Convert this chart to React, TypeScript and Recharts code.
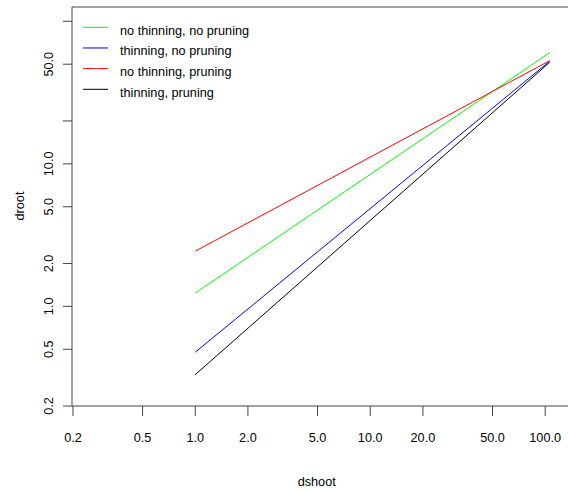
import React from "react";
import { LineChart, Line, XAxis, YAxis, ReferenceLine, Customized } from "recharts";

// log-log fit lines at both ends
const dshoot = [1, 106];
const noThinNoPrune = [1.24, 60.2];
const thinNoPrune = [0.477, 52.4];
const noThinPrune = [2.44, 52.9];
const thinPrune = [0.332, 51.5];

const xTicks = [0.2, 0.5, 1, 2, 5, 10, 20, 50, 100];
const yTicks = [0.2, 0.5, 1, 2, 5, 10, 20, 50, 100];
const yLabelled = [0.2, 0.5, 1, 2, 5, 10, 50];

const series = [
  { key: "ntnp", name: "no thinning, no pruning", color: "#00ff00", values: noThinNoPrune },
  { key: "tnp", name: "thinning, no pruning", color: "#0000ff", values: thinNoPrune },
  { key: "ntp", name: "no thinning, pruning", color: "#ff0000", values: noThinPrune },
  { key: "tp", name: "thinning, pruning", color: "#000000", values: thinPrune },
];

const data = dshoot.map((x, i) => {
  const row: Record<string, number> = { dshoot: x };
  series.forEach((s) => (row[s.key] = s.values[i]));
  return row;
});

const FONT = "'Liberation Sans', Arial, sans-serif";
const AXIS = "#444";

const fmt = (v: number) => (v < 1 ? String(v) : v.toFixed(1));

function YTick(props: any) {
  const { x, y, payload } = props;
  if (!yLabelled.includes(payload.value)) return null;
  return (
    <text x={x} y={y} transform={`rotate(-90, ${x}, ${y})`} textAnchor="middle" fill="#000" fontSize={12.7} fontFamily={FONT}>
      {fmt(payload.value)}
    </text>
  );
}

function Extras() {
  return (
    <g fontFamily={FONT} fontSize={12.7} fill="#000">
      {series.map((s, i) => (
        <g key={s.key}>
          <line x1={83} x2={108} y1={27.3 + i * 20.67} y2={27.3 + i * 20.67} stroke={s.color} strokeWidth={1} />
          <text x={120} y={34.5 + i * 20.67}>{s.name}</text>
        </g>
      ))}
      <text x={316.7} y={486} textAnchor="middle">dshoot</text>
      <text x={23.5} y={206} textAnchor="middle" transform="rotate(-90, 23.5, 206)">droot</text>
    </g>
  );
}

export default function App() {
  return (
    <div style={{ position: "absolute", left: 0, top: 0, width: 568, height: 490, background: "#fff" }}>
      <LineChart width={568} height={490} data={data} margin={{ top: 7, right: 0, bottom: 0, left: 0 }}>
        <XAxis
          dataKey="dshoot"
          type="number"
          scale="log"
          domain={[0.1975, 135]}
          allowDataOverflow
          ticks={xTicks}
          interval={0}
          tickFormatter={fmt}
          height={84}
          tickSize={10}
          tickMargin={17}
          stroke={AXIS}
          tick={{ fill: "#000", fontSize: 12.7, fontFamily: FONT }}
        />
        <YAxis
          type="number"
          scale="log"
          domain={[0.2, 126]}
          allowDataOverflow
          ticks={yTicks}
          interval={0}
          width={72}
          tickSize={9}
          tickMargin={9.7}
          stroke={AXIS}
          tick={<YTick />}
        />
        <ReferenceLine y={126} stroke={AXIS} strokeWidth={1} />
        {series.map((s) => (
          <Line
            key={s.key}
            dataKey={s.key}
            type="linear"
            stroke={s.color}
            strokeWidth={1}
            dot={false}
            isAnimationActive={false}
          />
        ))}
        <Customized component={Extras} />
      </LineChart>
    </div>
  );
}
